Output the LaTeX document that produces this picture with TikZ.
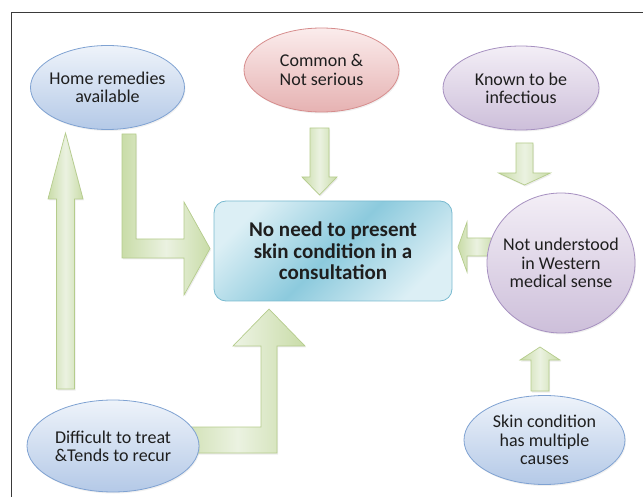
\documentclass[tikz,border=0pt]{standalone}
\usepackage{fontspec}
\setmainfont{Carlito}
\usetikzlibrary{shapes.geometric,shadows}
\pgfdeclarelayer{background}
\pgfsetlayers{background,main}

\definecolor{bluetop}{HTML}{EEF3FA}
\definecolor{bluebot}{HTML}{B4C9E7}
\definecolor{blueline}{HTML}{7FA2D2}
\definecolor{pinktop}{HTML}{FBECEC}
\definecolor{pinkbot}{HTML}{E6B2B2}
\definecolor{pinkline}{HTML}{D68C8C}
\definecolor{violettop}{HTML}{F3EEF6}
\definecolor{violetbot}{HTML}{CDBFDA}
\definecolor{violetline}{HTML}{A690C0}
\definecolor{boxlight}{HTML}{DCEFF5}
\definecolor{boxdark}{HTML}{8CCADD}
\definecolor{boxline}{HTML}{79BAD0}
\definecolor{arrowlight}{HTML}{EBF2E1}
\definecolor{arrowdark}{HTML}{C9DCA8}
\definecolor{arrowline}{HTML}{B5CC8C}
\definecolor{textcol}{HTML}{1E1E1E}
\definecolor{framecol}{HTML}{3A3A3A}

\tikzset{
  bubble/.style={ellipse, draw=#1line, line width=0.8pt, top color=#1top, bottom color=#1bot,
    inner sep=0pt, drop shadow={shadow xshift=1pt, shadow yshift=-1.5pt, opacity=0.12}},
  words/.style={align=center, text=textcol, font=\fontsize{18}{18.3}\selectfont},
  mainbox/.style={draw=boxline, line width=0.8pt, rounded corners=12pt, shading=axis,
    top color=boxlight, bottom color=boxlight, middle color=boxdark, shading angle=45,
    align=center, text=textcol, font=\fontsize{21}{21.5}\selectfont\bfseries},
  blockarrow/.style={draw=arrowline, line width=0.7pt, left color=arrowdark, right color=arrowdark,
    middle color=arrowlight, drop shadow={shadow xshift=1pt, shadow yshift=-1.5pt, opacity=0.15}}
}

\begin{document}
\begin{tikzpicture}[x=1pt,y=1pt]
	\useasboundingbox (0,0) rectangle (643,496);
	
	%Frame
	\draw[framecol, line width=1pt] (11,-2) -- (11,483) -- (645,483);
	
	%Centre box
	\node[mainbox, minimum width=238pt, minimum height=100pt] (box) at (333,245)
		{No need to present\\skin condition in a\\consultation};
	
	%Ellipses
	\node[bubble=blue, minimum width=154pt, minimum height=84pt,
		label={[words]center:{Home remedies\\available}}] (home) at (107.5,408.5) {};
	\node[bubble=pink, minimum width=155pt, minimum height=84pt,
		label={[words]center:{Common \&\\Not serious}}] (common) at (321.5,426) {};
	\node[bubble=violet, minimum width=156pt, minimum height=84pt,
		label={[words]center:{Known to be\\infectious}}] (known) at (521,408) {};
	\node[bubble=violet, minimum width=148pt, minimum height=140pt,
		label={[words]center:{Not understood\\in Western\\medical sense}}] (western) at (561,233) {};
	\node[bubble=blue, minimum width=161pt, minimum height=89pt,
		label={[words]center:{Skin condition\\has multiple\\causes}}] (causes) at (544.5,56) {};
	\node[bubble=blue, minimum width=172pt, minimum height=92pt,
		label={[words]center:{Difficult to treat\\\&Tends to recur}}] (recur) at (113,50) {};
	
	\begin{pgfonlayer}{background}
		%Arrow up to Home remedies
		\def\x{65.5}
		\draw[blockarrow] (\x-9,107) -- (\x-9,297) -- (\x-17.5,297) -- (\x,363)
			-- (\x+17.5,297) -- (\x+9,297) -- (\x+9,107) -- cycle;
		
		%Bent arrow from Home remedies
		\draw[blockarrow] (122,362) -- (122,238) -- (184,238) -- (184,201) -- (210,247.5)
			-- (184,294) -- (184,257) -- (136,257) -- (136,362) -- cycle;
		
		%Arrow from Common & Not serious
		\def\x{319.5}
		\draw[blockarrow] (\x-9.5,368) -- (\x-9.5,319) -- (\x-17.5,319) -- (\x,301)
			-- (\x+17.5,319) -- (\x+9.5,319) -- (\x+9.5,368) -- cycle;
		
		%Arrow from Known to be infectious
		\def\x{524.5}
		\draw[blockarrow] (\x-8.5,353) -- (\x-8.5,323) -- (\x-26,323) -- (\x,311)
			-- (\x+26,323) -- (\x+8.5,323) -- (\x+8.5,353) -- cycle;
		
		%Arrow from Not understood
		\def\o{249}
		\draw[blockarrow, shading angle=90] (495,\o-9) -- (467,\o-9) -- (467,\o-25) -- (458,\o)
			-- (467,\o+25) -- (467,\o+9) -- (495,\o+9) -- cycle;
		
		%Arrow from Skin condition
		\def\x{540}
		\draw[blockarrow] (\x-9,105) -- (\x-9,136) -- (\x-20,136) -- (\x,149)
			-- (\x+20,136) -- (\x+9,136) -- (\x+9,105) -- cycle;
		
		%Bent arrow from Difficult to treat
		\def\x{269}
		\draw[blockarrow] (170,43) -- (\x+8,43) -- (\x+8,150) -- (\x+36,150) -- (\x,187)
			-- (\x-36,150) -- (\x-8,150) -- (\x-8,69) -- (170,69) -- cycle;
	\end{pgfonlayer}
\end{tikzpicture}
\end{document}
